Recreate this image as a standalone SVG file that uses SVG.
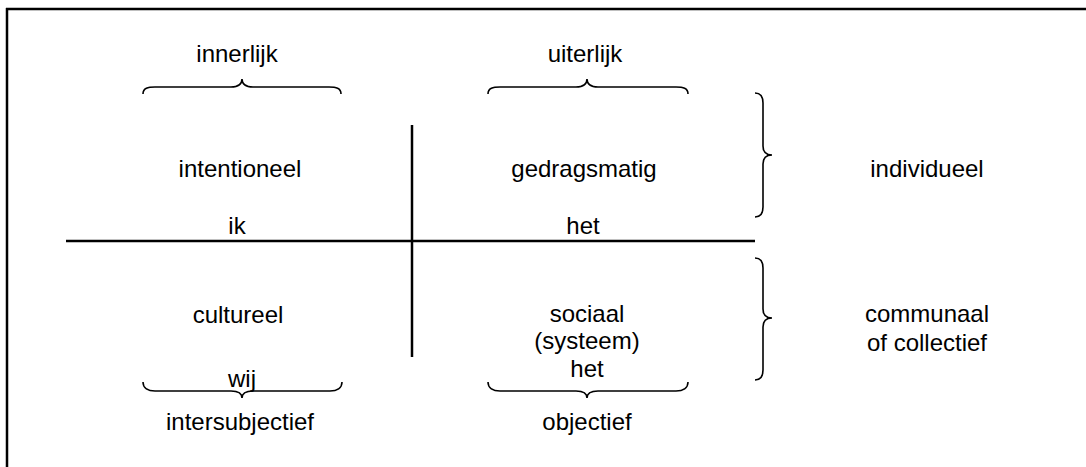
<svg xmlns="http://www.w3.org/2000/svg" width="1086" height="467" viewBox="0 0 1086 467">
<style>
text{font-family:"Liberation Sans",Arial,sans-serif;font-size:24px;fill:#000;text-anchor:middle}
.ln{stroke:#000;stroke-width:2.5;fill:none}
.br{stroke:#000;stroke-width:1.6;fill:none}
</style>
<rect width="1086" height="467" fill="#fff"/>
<g id="frame">
<line class="ln" x1="7" y1="8" x2="7" y2="467"/>
<line class="ln" x1="6" y1="9" x2="1086" y2="9"/>
</g>
<g id="connectors">
<line class="ln" x1="412" y1="125" x2="412" y2="357"/>
<line class="ln" x1="66" y1="241" x2="755" y2="241"/>
<path class="br" d="M143,94 C143,88 148,87 155,87 L231,87 C238,87 242,84 242,79 C242,84 246,87 253,87 L329,87 C336,87 341,88 341,94"/>
<path class="br" d="M488,94 C488,88 493,87 500,87 L576,87 C583,87 587,84 587,79 C587,84 591,87 598,87 L676,87 C683,87 688,88 688,94"/>
<path class="br" d="M143,382 C143,388 148,391 155,391 L231,391 C238,391 242,393 242,398 C242,393 246,391 253,391 L330,391 C337,391 342,388 342,382"/>
<path class="br" d="M488,382 C488,388 493,391 500,391 L576,391 C583,391 587,393 587,398 C587,393 591,391 598,391 L676,391 C683,391 688,388 688,382"/>
<path class="br" d="M755,93 C761,93 763,97 763,103 L763,146 C763,152 766,155 772,155 C766,155 763,158 763,164 L763,207 C763,213 761,217 755,217"/>
<path class="br" d="M755,258 C761,258 763,262 763,268 L763,309 C763,315 766,318 772,318 C766,318 763,321 763,327 L763,370 C763,376 761,380 755,380"/>
</g>
<g id="innerlijk"><text x="237" y="62">innerlijk</text></g>
<g id="uiterlijk"><text x="585" y="62">uiterlijk</text></g>
<g id="intentioneel"><text x="240" y="177">intentioneel</text></g>
<g id="gedragsmatig"><text x="584" y="177">gedragsmatig</text></g>
<g id="individueel"><text x="927" y="177">individueel</text></g>
<g id="ik"><text x="237" y="234">ik</text></g>
<g id="het1"><text x="583" y="234">het</text></g>
<g id="cultureel"><text x="238" y="323">cultureel</text></g>
<g id="sociaal"><text x="587" y="322">sociaal</text><text x="587" y="349">(systeem)</text><text x="587" y="377">het</text></g>
<g id="communaal"><text x="927" y="322">communaal</text><text x="927" y="351">of collectief</text></g>
<g id="wij"><text x="242" y="387">wij</text></g>
<g id="intersubjectief"><text x="240" y="430">intersubjectief</text></g>
<g id="objectief"><text x="587" y="430">objectief</text></g>
</svg>
